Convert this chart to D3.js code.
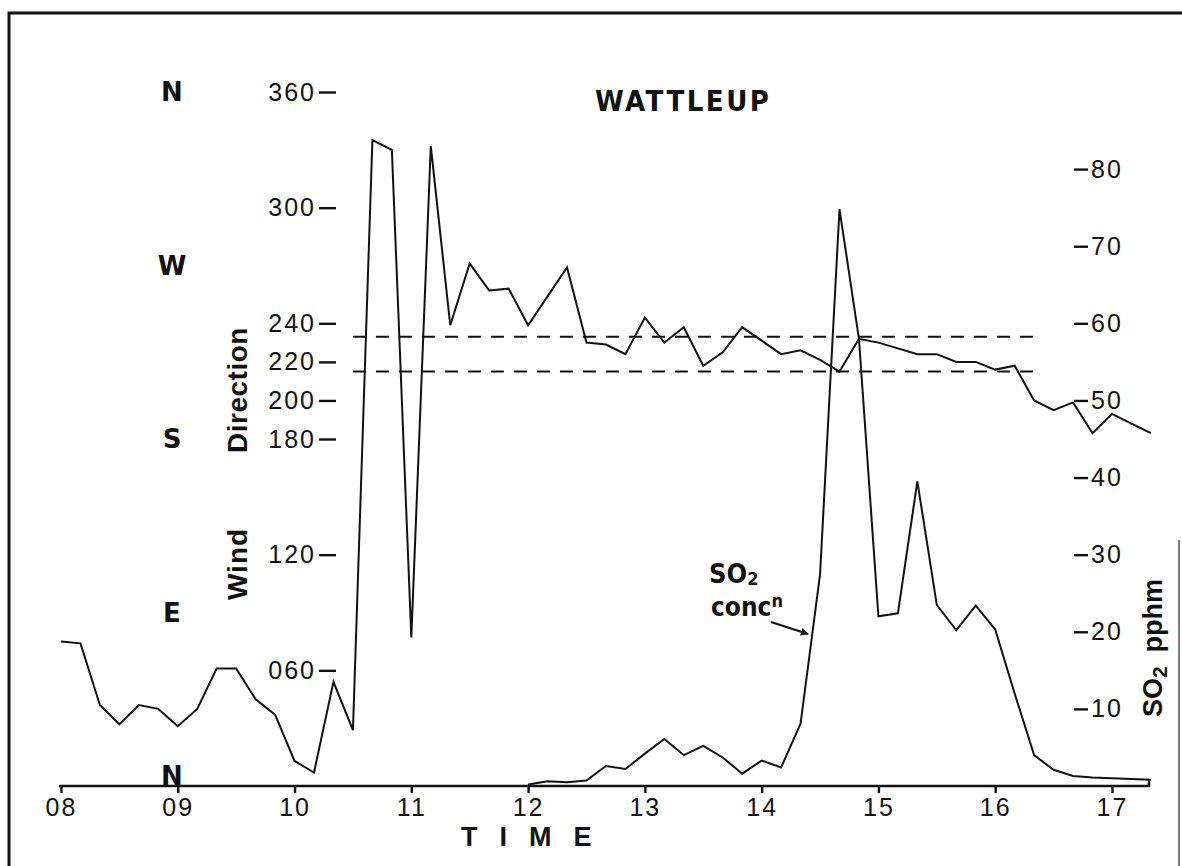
<!DOCTYPE html>
<html>
<head>
<meta charset="utf-8">
<script src="https://cdn.jsdelivr.net/npm/d3@7"></script>
<style>
  body { margin: 0; background: #fff; }
  svg { display: block; }
</style>
</head>
<body>
<script>
// readings every 10 minutes, 08:00 to 17:20
const times = [
  "08:00", "08:10", "08:20", "08:30", "08:40", "08:50",
  "09:00", "09:10", "09:20", "09:30", "09:40", "09:50",
  "10:00", "10:10", "10:20", "10:30", "10:40", "10:50",
  "11:00", "11:10", "11:20", "11:30", "11:40", "11:50",
  "12:00", "12:10", "12:20", "12:30", "12:40", "12:50",
  "13:00", "13:10", "13:20", "13:30", "13:40", "13:50",
  "14:00", "14:10", "14:20", "14:30", "14:40", "14:50",
  "15:00", "15:10", "15:20", "15:30", "15:40", "15:50",
  "16:00", "16:10", "16:20", "16:30", "16:40", "16:50",
  "17:00", "17:10", "17:20"
];

// wind direction, degrees
const windDir = [
  75, 74, 42, 32, 42, 40,
  31, 40, 61, 61, 45, 37,
  13, 7, 54, 29, 335, 330,
  77, 332, 239, 271, 257, 258,
  239, 254, 269, 230, 229, 224,
  243, 230, 238, 218, 225, 238,
  231, 224, 226, 221, 215, 232,
  230, 227, 224, 224, 220, 220,
  216, 218, 200, 195, 199, 183,
  193, 188, 183
];

// SO2 concentration, pphm (no trace before noon)
const so2 = [
  null, null, null, null, null, null,
  null, null, null, null, null, null,
  null, null, null, null, null, null,
  null, null, null, null, null, null,
  0.2, 0.6, 0.5, 0.7, 2.6, 2.2,
  4.2, 6.1, 4.0, 5.2, 3.7, 1.6,
  3.3, 2.4, 8.1, 27.4, 74.8, 58,
  22, 22.4, 39.5, 23.5, 20.2, 23.4,
  20.3, 12, 4.0, 2.1, 1.3, 1.1,
  1.0, 0.9, 0.8
];

const hourTicks = [8, 9, 10, 11, 12, 13, 14, 15, 16, 17];
const dirTicks = [60, 120, 180, 200, 220, 240, 300, 360];
const so2Ticks = [10, 20, 30, 40, 50, 60, 70, 80];
const compassLabels = ["N", "W", "S", "E", "N"];
const compassDegrees = [360, 270, 180, 90, 0];
const sectorDirs = [233, 215];
const sectorHours = [10.5, 16.38];

const width = 1182, height = 866;
const axisY = 786;
const tickFont = "'Liberation Sans', Arial, sans-serif";
const labelFont = "'Liberation Sans', Arial, sans-serif";
const narrowFont = "'Liberation Sans Narrow', 'DejaVu Sans Condensed', sans-serif";

const toHours = (s) => {
  const [h, m] = s.split(":").map(Number);
  return h + m / 60;
};

const x = d3.scaleLinear([8, 17.3], [61, 1147]);
const yDir = d3.scaleLinear([0, 360], [axisY, 92]);
const ySo2 = d3.scaleLinear([0, 90], [axisY, 92]);

const svg = d3.select("body")
  .append("svg")
  .attr("width", width)
  .attr("height", height)
  .attr("viewBox", [0, 0, width, height])
  .style("background", "#fff");

svg.append("defs")
  .append("marker")
  .attr("id", "arrow")
  .attr("viewBox", "0 0 10 10")
  .attr("refX", 9)
  .attr("refY", 5)
  .attr("markerWidth", 8)
  .attr("markerHeight", 8)
  .attr("markerUnits", "userSpaceOnUse")
  .attr("orient", "auto")
  .append("path")
  .attr("d", "M0,0 L10,5 L0,10 Z")
  .attr("fill", "#111");

// frame
svg.append("path")
  .attr("d", `M9,${height} V13 H${width}`)
  .attr("fill", "none")
  .attr("stroke", "#111")
  .attr("stroke-width", 3);

svg.append("line")
  .attr("x1", 1179).attr("x2", 1179)
  .attr("y1", 540).attr("y2", height)
  .attr("stroke", "#555")
  .attr("stroke-width", 1.5);

const styleTicks = (g) => {
  g.select(".domain").remove();
  g.selectAll(".tick line").attr("stroke", "#111").attr("stroke-width", 2.4);
  g.selectAll(".tick text")
    .attr("fill", "#111")
    .attr("font-family", tickFont)
    .attr("font-size", 25)
    .attr("letter-spacing", 2);
};

// time axis
svg.append("g")
  .attr("transform", `translate(0,${axisY})`)
  .call(d3.axisBottom(x)
    .tickValues(hourTicks)
    .tickSize(7)
    .tickPadding(5)
    .tickFormat(d3.format("02d")))
  .call(styleTicks);

svg.append("path")
  .attr("d", `M59,${axisY} H1149 V${axisY - 7}`)
  .attr("fill", "none")
  .attr("stroke", "#111")
  .attr("stroke-width", 2.6);

// wind direction axis
svg.append("g")
  .attr("transform", "translate(336,0)")
  .call(d3.axisLeft(yDir)
    .tickValues(dirTicks)
    .tickSize(17)
    .tickPadding(3)
    .tickFormat(d3.format("03d")))
  .call(styleTicks);

// SO2 axis
svg.append("g")
  .attr("transform", "translate(1074,0)")
  .call(d3.axisRight(ySo2)
    .tickValues(so2Ticks)
    .tickSize(14)
    .tickPadding(3))
  .call(styleTicks);

// compass points
svg.append("g")
  .selectAll("text")
  .data(compassLabels)
  .join("text")
  .attr("x", 172)
  .attr("y", (d, i) => compassDegrees[i] === 0 ? yDir(0) - 1 : yDir(compassDegrees[i]) + 9)
  .attr("text-anchor", "middle")
  .attr("font-family", "'DejaVu Sans', sans-serif")
  .attr("font-weight", "bold")
  .attr("font-size", 26)
  .attr("fill", "#111")
  .text((d) => d);

// sector limits
svg.append("g")
  .selectAll("line")
  .data(sectorDirs)
  .join("line")
  .attr("x1", x(sectorHours[0]))
  .attr("x2", x(sectorHours[1]))
  .attr("y1", (d) => yDir(d))
  .attr("y2", (d) => yDir(d))
  .attr("stroke", "#111")
  .attr("stroke-width", 2)
  .attr("stroke-dasharray", "13,10");

const rows = times.map((t, i) => ({ h: toHours(t), dir: windDir[i], so2: so2[i] }));

svg.append("path")
  .datum(rows)
  .attr("fill", "none")
  .attr("stroke", "#111")
  .attr("stroke-width", 2)
  .attr("d", d3.line().x((d) => x(d.h)).y((d) => yDir(d.dir)));

svg.append("path")
  .datum(rows)
  .attr("fill", "none")
  .attr("stroke", "#111")
  .attr("stroke-width", 2)
  .attr("d", d3.line()
    .defined((d) => d.so2 != null)
    .x((d) => x(d.h))
    .y((d) => ySo2(d.so2)));

// titles
svg.append("text")
  .attr("x", 595)
  .attr("y", 111)
  .attr("font-family", narrowFont)
  .attr("font-weight", "bold")
  .attr("font-size", 29)
  .attr("letter-spacing", 2.5)
  .attr("fill", "#111")
  .text("WATTLEUP");

svg.append("text")
  .attr("x", 461)
  .attr("y", 846)
  .attr("font-family", labelFont)
  .attr("font-weight", "bold")
  .attr("font-size", 27)
  .attr("letter-spacing", 22)
  .attr("fill", "#111")
  .text("TIME");

svg.append("text")
  .attr("transform", "translate(247,564) rotate(-90)")
  .attr("text-anchor", "middle")
  .attr("font-family", labelFont)
  .attr("font-weight", "bold")
  .attr("font-size", 28)
  .attr("letter-spacing", 1)
  .attr("fill", "#111")
  .text("Wind");

svg.append("text")
  .attr("transform", "translate(247,390) rotate(-90)")
  .attr("text-anchor", "middle")
  .attr("font-family", labelFont)
  .attr("font-weight", "bold")
  .attr("font-size", 28)
  .attr("letter-spacing", 0.5)
  .attr("fill", "#111")
  .text("Direction");

const so2Label = svg.append("text")
  .attr("transform", "translate(1162,648) rotate(-90)")
  .attr("text-anchor", "middle")
  .attr("font-family", labelFont)
  .attr("font-weight", "bold")
  .attr("font-size", 27)
  .attr("fill", "#111");
so2Label.append("tspan").text("SO");
so2Label.append("tspan").attr("font-size", 21).attr("dy", 5).text("2");
so2Label.append("tspan").attr("dy", -5).attr("dx", 14).text("pphm");

// annotation
const note = svg.append("text")
  .attr("x", 709)
  .attr("y", 583)
  .attr("font-family", narrowFont)
  .attr("font-weight", "bold")
  .attr("font-size", 27)
  .attr("fill", "#111");
note.append("tspan").text("SO");
note.append("tspan").attr("font-size", 18).attr("dy", 2).text("2");

const note2 = svg.append("text")
  .attr("x", 711)
  .attr("y", 616)
  .attr("font-family", narrowFont)
  .attr("font-weight", "bold")
  .attr("font-size", 26)
  .attr("fill", "#111");
note2.append("tspan").text("conc");
note2.append("tspan").attr("font-size", 18).attr("dy", -9).text("n");

svg.append("line")
  .attr("x1", 771).attr("y1", 622)
  .attr("x2", 808).attr("y2", 634)
  .attr("stroke", "#111")
  .attr("stroke-width", 2)
  .attr("marker-end", "url(#arrow)");
</script>
</body>
</html>
